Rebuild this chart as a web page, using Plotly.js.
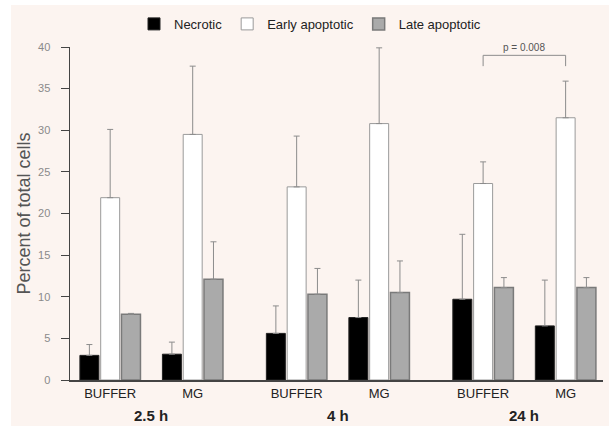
<!DOCTYPE html>
<html>
<head>
<meta charset="utf-8">
<script src="https://cdn.plot.ly/plotly-3.0.1.min.js"></script>
<style>
  html, body { margin: 0; padding: 0; background: #ffffff; }
  #chart { position: absolute; left: 11px; top: 5px; width: 598px; height: 421px; }
</style>
</head>
<body>
<div id="chart"></div>
<script>
// ---- data ----
const timepoints = ["2.5 h", "4 h", "24 h"];
const treatments = ["BUFFER", "MG"];
const seriesNames = ["Necrotic", "Early apoptotic", "Late apoptotic"];
const necrotic      = [2.96, 3.1, 5.6, 7.5, 9.7, 6.5];
const necroticSD    = [1.3, 1.45, 3.3, 4.5, 7.8, 5.5];
const earlyApop     = [21.9, 29.5, 23.2, 30.8, 23.6, 31.5];
const earlyApopSD   = [8.2, 8.2, 6.1, 9.1, 2.6, 4.4];
const lateApop      = [7.9, 12.1, 10.3, 10.5, 11.1, 11.1];
const lateApopSD    = [0.1, 4.5, 3.1, 3.8, 1.2, 1.2];
const yTicks = [0, 5, 10, 15, 20, 25, 30, 35, 40];
const pLabel = "p = 0.008";

// ---- layout helpers ----
const groupStride = 2.26;
const xPos = [];
const xText = [];
timepoints.forEach((t, gi) => {
  treatments.forEach((tr, ti) => {
    xPos.push(gi * groupStride + ti);
    xText.push(tr);
  });
});
const groupMid = timepoints.map((t, gi) => gi * groupStride + 0.5);

const fontFam = "Liberation Sans, Arial, sans-serif";
const errStyle = (arr) => ({
  type: 'data', symmetric: false, array: arr,
  arrayminus: arr.map(() => 0),
  color: '#8c8c8c', thickness: 1, width: 3
});

const traces = [
  { type: 'bar', name: seriesNames[0], x: xPos, y: necrotic,
    marker: { color: '#000000', line: { color: '#222222', width: 1 } },
    error_y: errStyle(necroticSD) },
  { type: 'bar', name: seriesNames[1], x: xPos, y: earlyApop,
    marker: { color: '#ffffff', line: { color: '#9a9a9a', width: 1 } },
    error_y: errStyle(earlyApopSD) },
  { type: 'bar', name: seriesNames[2], x: xPos, y: lateApop,
    marker: { color: '#aaaaaa', line: { color: '#7a7a7a', width: 1.5 } },
    error_y: errStyle(lateApopSD) }
];

const iB = 4, iM = 5; // 24 h BUFFER vs MG
const brTop = 39.0, brLeg = 37.7;

const layout = {
  width: 598, height: 421,
  paper_bgcolor: '#fcf4f0', plot_bgcolor: 'rgba(0,0,0,0)',
  margin: { l: 59, r: 6, t: 41.7, b: 46 },
  barmode: 'group', bargap: 0.244, bargroupgap: 0.087,
  font: { family: fontFam, color: '#222222' },
  showlegend: true,
  legend: {
    orientation: 'h', xref: 'container', yref: 'container',
    x: 0.5, xanchor: 'center', y: 0.955, yanchor: 'middle',
    font: { size: 13, color: '#222222', family: fontFam },
    itemwidth: 30, bgcolor: 'rgba(0,0,0,0)', traceorder: 'normal'
  },
  xaxis: {
    range: [-0.487, 5.973], tickmode: 'array', tickvals: xPos, ticktext: xText,
    showgrid: false, zeroline: false, showline: true, linecolor: '#444444', linewidth: 1.5,
    ticks: '', tickfont: { size: 13, color: '#222222', family: fontFam },
    ticklabelstandoff: 1
  },
  yaxis: {
    range: [0, 40], tickmode: 'array', tickvals: yTicks,
    showgrid: false, zeroline: false, showline: true, linecolor: '#444444', linewidth: 1.5,
    ticks: 'outside', ticklen: 8, tickcolor: '#444444', tickwidth: 1,
    tickfont: { size: 11, color: '#8a8a8a', family: fontFam },
    ticklabelstandoff: 8,
    title: { text: 'Percent of total cells', font: { size: 18, color: '#555555', family: fontFam }, standoff: 2 }
  },
  annotations: timepoints.map((t, gi) => ({
    x: groupMid[gi], xref: 'x', y: 0, yref: 'paper', yanchor: 'middle',
    yshift: -35, text: '<b>' + t + '</b>', showarrow: false,
    font: { size: 15, color: '#222222', family: fontFam }
  })).concat([{
    x: (xPos[iB] + xPos[iM]) / 2, xref: 'x', y: brTop, yref: 'y', yanchor: 'bottom',
    yshift: 0, text: pLabel, showarrow: false,
    font: { size: 10, color: '#555555', family: fontFam }
  }]),
  shapes: [{
    type: 'path', xref: 'x', yref: 'y',
    path: `M ${xPos[iB]} ${brLeg} L ${xPos[iB]} ${brTop} L ${xPos[iM]} ${brTop} L ${xPos[iM]} ${brLeg}`,
    line: { color: '#8c8c8c', width: 1 }
  }]
};

Plotly.newPlot('chart', traces, layout, { staticPlot: true, displayModeBar: false });
</script>
</body>
</html>
